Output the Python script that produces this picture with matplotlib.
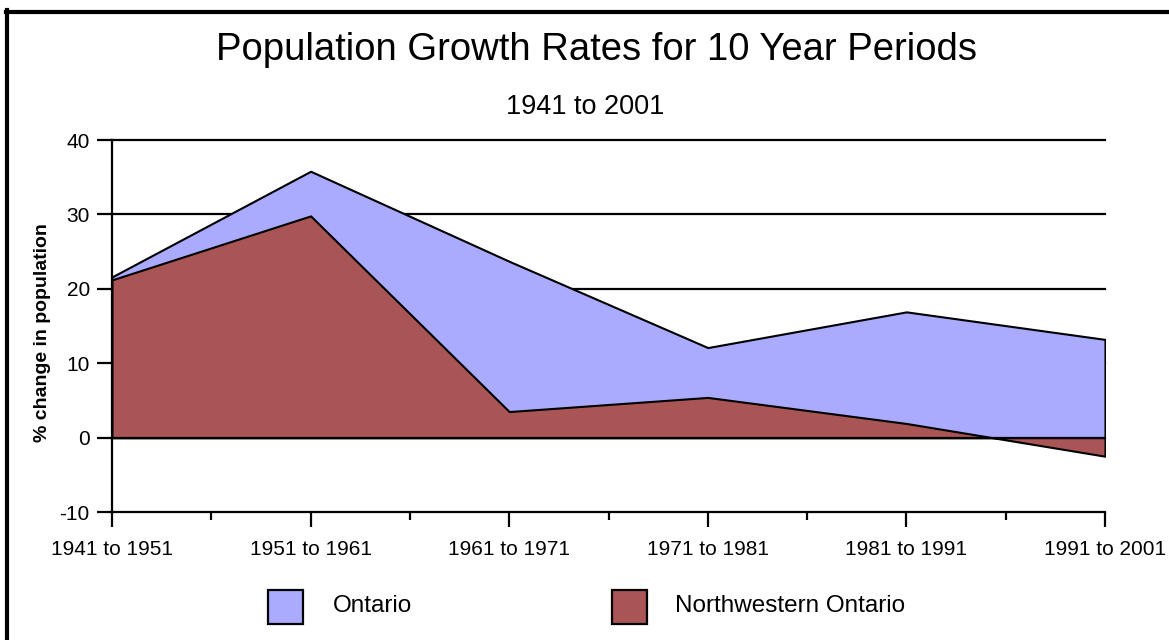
import matplotlib
matplotlib.use("Agg")
import matplotlib.pyplot as plt
from matplotlib.patches import Rectangle
from matplotlib.lines import Line2D
import numpy as np

plt.rcParams['font.family'] = ['Liberation Sans', 'DejaVu Sans']

categories = ["1941 to 1951", "1951 to 1961", "1961 to 1971",
              "1971 to 1981", "1981 to 1991", "1991 to 2001"]
ontario = [21.6, 35.8, 23.7, 12.1, 16.9, 13.2]
nw_ontario = [21.2, 29.8, 3.5, 5.4, 1.9, -2.5]
series_names = ["Ontario", "Northwestern Ontario"]
yticks = [-10, 0, 10, 20, 30, 40]

c_ont = "#AAAAFF"
c_nwo = "#AA5555"

W, H = 1169, 640
fig = plt.figure(figsize=(W / 100, H / 100), dpi=100)
ax = fig.add_axes([112 / W, 1 - 512 / H, (1105 - 112) / W, (512 - 140) / H])

x = np.arange(len(categories))
ax.set_xlim(0, len(categories) - 1)
ax.set_ylim(-10, 40)

for g in [0, 10, 20, 30, 40]:
    ax.axhline(g, color="black", lw=1.6, zorder=1, clip_on=False)

ax.fill_between(x, 0, ontario, facecolor=c_ont, edgecolor="black", lw=1.5, zorder=2)
ax.fill_between(x, 0, nw_ontario, facecolor=c_nwo, edgecolor="black", lw=1.5, zorder=3)
ax.axhline(0, color="black", lw=1.6, zorder=4)

for s in ["top", "right"]:
    ax.spines[s].set_visible(False)
ax.spines["left"].set_linewidth(1.6)
ax.spines["bottom"].set_linewidth(1.6)

ax.set_yticks(yticks)
ax.set_yticklabels([str(v) for v in yticks], fontsize=15)
ax.tick_params(axis="y", length=11, width=1.6, pad=5)
ax.set_xticks(x)
ax.set_xticklabels(categories, fontsize=15)
ax.set_xticks(x[:-1] + 0.5, minor=True)
ax.tick_params(axis="x", which="major", length=11, width=1.6, pad=9)
ax.tick_params(axis="x", which="minor", length=6, width=1.6)

fig.text(43 / W, 1 - 333 / H, "% change in population", rotation=90,
         ha="center", va="center", fontsize=14, fontweight="bold")

fig.text(596 / W, 1 - 50 / H, "Population Growth Rates for 10 Year Periods",
         ha="center", va="center", fontsize=27.5)
fig.text(585 / W, 1 - 107 / H, "1941 to 2001", ha="center", va="center", fontsize=19.5)

# legend
lx = [268, 612]
tx = [333, 675]
for i, (name, col) in enumerate(zip(series_names, [c_ont, c_nwo])):
    fig.add_artist(Rectangle((lx[i] / W, 1 - 624 / H), 35 / W, 34 / H,
                             transform=fig.transFigure, facecolor=col,
                             edgecolor="black", lw=1.6))
    fig.text(tx[i] / W, 1 - 606 / H, name, ha="left", va="center", fontsize=17.5)

# frame lines top and left
fig.add_artist(Line2D([6 / W, 1], [1 - 11.5 / H, 1 - 11.5 / H], color="black", lw=3,
                      transform=fig.transFigure))
fig.add_artist(Line2D([6.5 / W, 6.5 / W], [0, 1 - 10 / H], color="black", lw=3,
                      transform=fig.transFigure))

fig.savefig("out.png", dpi=100)
